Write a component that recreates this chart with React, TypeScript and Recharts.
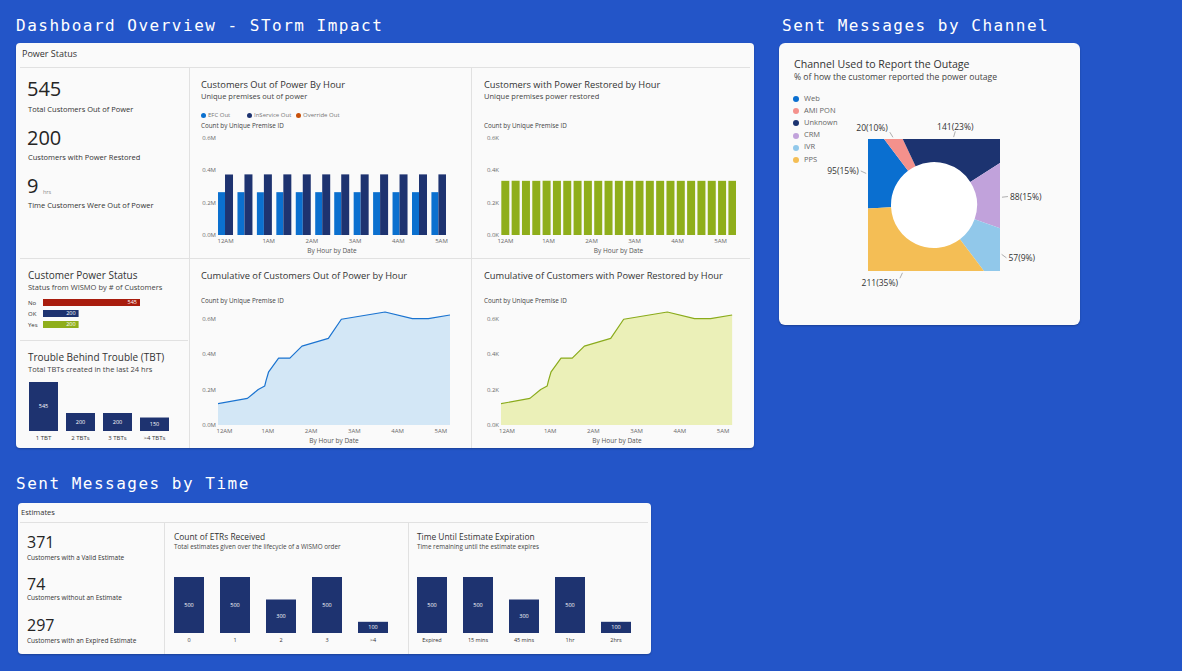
import React from 'react';
import {
  BarChart,
  Bar,
  XAxis,
  YAxis,
  AreaChart,
  Area,
  PieChart,
  Pie,
  Cell,
  LabelList,
} from 'recharts';

// ---------- data ----------
const hourTicks = [0, 1, 2, 3, 4, 5];
const hourTickLabels = ['12AM', '1AM', '2AM', '3AM', '4AM', '5AM'];

// Customers out of power by hour (millions of premises)
const outHours = [0, 0.45, 0.9, 1.35, 1.8, 2.25, 2.69, 3.14, 3.59, 4.04, 4.49, 4.94];
const efcOut = [0.265, 0.265, 0.265, 0.265, 0.265, 0.265, 0.265, 0.265, 0.265, 0.265, 0.265, 0.265];
const inServiceOut = [0.375, 0.375, 0.375, 0.375, 0.375, 0.375, 0.375, 0.375, 0.375, 0.375, 0.375, 0.375];
const outSeriesNames = ['EFC Out', 'InService Out', 'Override Out'];

// Customers with power restored by hour (thousands of premises)
const restoredHours = [
  0, 0.24, 0.48, 0.72, 0.96, 1.2, 1.44, 1.68, 1.92, 2.16, 2.4, 2.64, 2.88, 3.12, 3.36, 3.6, 3.84,
  4.08, 4.32, 4.56, 4.8, 5.04, 5.28,
];
const restoredCounts = [
  0.335, 0.335, 0.335, 0.335, 0.335, 0.335, 0.335, 0.335, 0.335, 0.335, 0.335, 0.335, 0.335,
  0.335, 0.335, 0.335, 0.335, 0.335, 0.335, 0.335, 0.335, 0.335, 0.335,
];

// Cumulative curves
const cumulativeHours = [-0.15, 0.53, 0.78, 0.93, 0.96, 1.02, 1.25, 1.51, 1.79, 2.4, 2.7, 3.71, 4.34, 4.71, 5.21];
const cumulativeOut = [0.12, 0.15, 0.2, 0.22, 0.25, 0.3, 0.377, 0.377, 0.445, 0.488, 0.596, 0.637, 0.6, 0.6, 0.62];
const cumulativeRestored = [0.12, 0.15, 0.2, 0.22, 0.25, 0.3, 0.377, 0.377, 0.445, 0.488, 0.596, 0.637, 0.6, 0.6, 0.62];

// Customer power status (WISMO)
const statusNames = ['No', 'OK', 'Yes'];
const statusCounts = [545, 200, 200];

// Trouble behind trouble
const tbtNames = ['1 TBT', '2 TBTs', '3 TBTs', '>4 TBTs'];
const tbtCounts = [545, 200, 200, 150];

// Channel used to report the outage
const channelNames = ['Web', 'AMI PON', 'Unknown', 'CRM', 'IVR', 'PPS'];
const channelCounts = [95, 20, 141, 88, 57, 211];
const channelPct = [15, 10, 23, 15, 9, 35];

// Estimates
const etrNames = ['0', '1', '2', '3', '>4'];
const etrCounts = [500, 500, 300, 500, 100];
const expiryNames = ['Expired', '15 mins', '45 mins', '1hr', '2hrs'];
const expiryCounts = [500, 500, 300, 500, 100];

// ---------- styling ----------
const FONT = '"Open Sans", "Noto Sans", sans-serif';
const MONO = '"DejaVu Sans Mono", monospace';
const PAGE_BG = '#2355c8';
const CARD_BG = '#fafafa';
const LINE = '#e1e1e1';
const BLUE = '#0b70cf';
const NAVY = '#1e3370';
const ORANGE = '#c8500a';
const GREEN = '#8fae1b';
const RED = '#a81c0d';
const channelColors = ['#0a6fd0', '#f4918c', '#1c3370', '#c1a2db', '#91c8ea', '#f4be55'];
const statusColors = [RED, NAVY, GREEN];

const tickStyle = { fontSize: 6, fill: '#6a6a6a', fontFamily: FONT };

// ---------- table rows for the charts ----------
const outData = outHours.map((t, i) => ({ t, efc: efcOut[i], inService: inServiceOut[i] }));
const restoredData = restoredHours.map((t, i) => ({ t, restored: restoredCounts[i] }));
const cumOutData = cumulativeHours.map((t, i) => ({ t, v: cumulativeOut[i] }));
const cumRestoredData = cumulativeHours.map((t, i) => ({ t, v: cumulativeRestored[i] }));
const statusData = statusNames.map((name, i) => ({ name, value: statusCounts[i] }));
const tbtData = tbtNames.map((name, i) => ({ name, value: tbtCounts[i] }));
const channelData = channelNames.map((name, i) => ({ name, value: channelCounts[i] }));
const etrData = etrNames.map((name, i) => ({ name, value: etrCounts[i] }));
const expiryData = expiryNames.map((name, i) => ({ name, value: expiryCounts[i] }));

const fmtHour = (v: number) => hourTickLabels[hourTicks.indexOf(v)] ?? '';

// ---------- helpers ----------
function Txt({
  x,
  y,
  size,
  color = '#333',
  weight = 400,
  font = FONT,
  spacing = 0,
  children,
}: {
  x: number;
  y: number;
  size: number;
  color?: string;
  weight?: number;
  font?: string;
  spacing?: number;
  children: React.ReactNode;
}) {
  return (
    <div
      style={{
        position: 'absolute',
        left: x,
        top: y - size * 0.58,
        fontSize: size,
        lineHeight: 1,
        color,
        fontWeight: weight,
        fontFamily: font,
        letterSpacing: spacing,
        whiteSpace: 'nowrap',
      }}
    >
      {children}
    </div>
  );
}

function Box({ x, y, w, h, style }: { x: number; y: number; w: number; h: number; style?: React.CSSProperties }) {
  return <div style={{ position: 'absolute', left: x, top: y, width: w, height: h, ...style }} />;
}

function Place({ x, y, children }: { x: number; y: number; children: React.ReactNode }) {
  return <div style={{ position: 'absolute', left: x, top: y }}>{children}</div>;
}

function HourBars() {
  return (
    <BarChart width={251} height={125} data={outData} margin={{ top: 8, right: 4, bottom: 0, left: 0 }} barGap={0}>
      <XAxis
        type="number"
        dataKey="t"
        domain={[-0.174, 5.104]}
        ticks={hourTicks}
        tickFormatter={fmtHour}
        allowDataOverflow
        axisLine={false}
        tickLine={false}
        tickSize={2}
        tickMargin={2}
        height={20}
        interval={0}
        tick={tickStyle}
        label={{ value: 'By Hour by Date', position: 'insideBottom', offset: 2, fontSize: 6.5, fill: '#555', fontFamily: FONT }}
      />
      <YAxis
        type="number"
        domain={[0, 0.6]}
        ticks={[0, 0.2, 0.4, 0.6]}
        tickFormatter={(v: number) => v.toFixed(1) + 'M'}
        width={19}
        axisLine={false}
        tickLine={false}
        tickSize={2}
        tickMargin={0}
        interval={0}
        tick={tickStyle}
      />
      <Bar dataKey="efc" name={outSeriesNames[0]} fill={BLUE} barSize={7} isAnimationActive={false} />
      <Bar dataKey="inService" name={outSeriesNames[1]} fill={NAVY} barSize={8} isAnimationActive={false} />
    </BarChart>
  );
}

function RestoredBars() {
  return (
    <BarChart width={259} height={125} data={restoredData} margin={{ top: 8, right: 4, bottom: 0, left: 0 }}>
      <XAxis
        type="number"
        dataKey="t"
        domain={[-0.104, 5.36]}
        ticks={hourTicks}
        tickFormatter={fmtHour}
        allowDataOverflow
        axisLine={false}
        tickLine={false}
        tickSize={2}
        tickMargin={2}
        height={20}
        interval={0}
        tick={tickStyle}
        label={{ value: 'By Hour by Date', position: 'insideBottom', offset: 2, fontSize: 6.5, fill: '#555', fontFamily: FONT }}
      />
      <YAxis
        type="number"
        domain={[0, 0.6]}
        ticks={[0, 0.2, 0.4, 0.6]}
        tickFormatter={(v: number) => v.toFixed(1) + 'K'}
        width={20}
        axisLine={false}
        tickLine={false}
        tickSize={2}
        tickMargin={0}
        interval={0}
        tick={tickStyle}
      />
      <Bar dataKey="restored" fill={GREEN} barSize={8} isAnimationActive={false} />
    </BarChart>
  );
}

function CumulativeArea({
  data,
  width,
  yAxisWidth,
  domain,
  unit,
  stroke,
  fill,
}: {
  data: { t: number; v: number }[];
  width: number;
  yAxisWidth: number;
  domain: [number, number];
  unit: string;
  stroke: string;
  fill: string;
}) {
  return (
    <AreaChart width={width} height={141} data={data} margin={{ top: 8, right: 4, bottom: 0, left: 0 }}>
      <XAxis
        type="number"
        dataKey="t"
        domain={domain}
        ticks={hourTicks}
        tickFormatter={fmtHour}
        allowDataOverflow
        axisLine={false}
        tickLine={false}
        tickSize={2}
        tickMargin={2}
        height={20}
        interval={0}
        tick={tickStyle}
        label={{ value: 'By Hour by Date', position: 'insideBottom', offset: 2, fontSize: 6.5, fill: '#555', fontFamily: FONT }}
      />
      <YAxis
        type="number"
        domain={[0, 0.6]}
        ticks={[0, 0.2, 0.4, 0.6]}
        tickFormatter={(v: number) => v.toFixed(1) + unit}
        width={yAxisWidth}
        axisLine={false}
        tickLine={false}
        tickSize={2}
        tickMargin={0}
        interval={0}
        tick={tickStyle}
      />
      <Area
        type="linear"
        dataKey="v"
        stroke={stroke}
        strokeWidth={1.2}
        strokeLinejoin="round"
        fill={fill}
        fillOpacity={1}
        dot={false}
        activeDot={false}
        isAnimationActive={false}
      />
    </AreaChart>
  );
}

function StatusTick(props: any) {
  const { y, payload } = props;
  return (
    <text x={2} y={y} dy={2} fontSize={6} fill="#333" fontFamily={FONT}>
      {payload.value}
    </text>
  );
}

function StatusBars() {
  return (
    <BarChart layout="vertical" width={120} height={33} data={statusData} margin={{ top: 0, right: 6, bottom: 0, left: 0 }}>
      <XAxis type="number" domain={[0, 545]} hide />
      <YAxis type="category" dataKey="name" width={17} axisLine={false} tickLine={false} interval={0} tick={<StatusTick />} />
      <Bar dataKey="value" barSize={7} isAnimationActive={false}>
        {statusData.map((d, i) => (
          <Cell key={d.name} fill={statusColors[i]} />
        ))}
        <LabelList dataKey="value" position="insideRight" offset={3} fill="#ffffff" fontSize={5.5} fontFamily={FONT} />
      </Bar>
    </BarChart>
  );
}

function ColumnBars({
  data,
  width,
  height,
  max,
  barSize,
  fontSize,
}: {
  data: { name: string; value: number }[];
  width: number;
  height: number;
  max: number;
  barSize: number;
  fontSize: number;
}) {
  return (
    <BarChart width={width} height={height} data={data} margin={{ top: 0, right: 0, bottom: 0, left: 0 }}>
      <XAxis
        dataKey="name"
        axisLine={false}
        tickLine={false}
        tickSize={3}
        tickMargin={2}
        height={14}
        interval={0}
        tick={{ fontSize, fill: '#333', fontFamily: FONT }}
      />
      <YAxis type="number" domain={[0, max]} hide />
      <Bar dataKey="value" fill={NAVY} barSize={barSize} isAnimationActive={false}>
        <LabelList dataKey="value" position="center" fill="#ffffff" fontSize={5.5} fontFamily={FONT} />
      </Bar>
    </BarChart>
  );
}

const PIE_START = 183;

function renderChannelLabel(p: any) {
  const { cx, cy, midAngle, index, value } = p;
  const rad = (-midAngle * Math.PI) / 180;
  const dx = Math.cos(rad);
  const dy = Math.sin(rad);
  const half = 66;
  const t = half / Math.max(Math.abs(dx), Math.abs(dy));
  const ex = cx + dx * t;
  const ey = cy + dy * t;
  const x1 = ex + dx * 2;
  const y1 = ey + dy * 2;
  const x2 = ex + dx * 8;
  const y2 = ey + dy * 8;
  const anchor = dx > 0.35 ? 'start' : dx < -0.35 ? 'end' : 'middle';
  const tx = x2 + (anchor === 'start' ? 2 : anchor === 'end' ? -2 : 0);
  const ty = y2 + (Math.abs(dy) > 0.8 ? dy * 5 : 0);
  return (
    <g key={`lbl-${index}`}>
      <line x1={x1} y1={y1} x2={x2} y2={y2} stroke="#9a9a9a" strokeWidth={0.8} />
      <text x={tx} y={ty} textAnchor={anchor} dominantBaseline="central" fontSize={8.5} fill="#333" fontFamily={FONT}>
        {`${value}(${channelPct[index]}%)`}
      </text>
    </g>
  );
}

function ChannelPieFill() {
  return (
    <PieChart width={132} height={132} margin={{ top: 0, right: 0, bottom: 0, left: 0 }}>
      <Pie
        data={channelData}
        dataKey="value"
        nameKey="name"
        cx={66}
        cy={66}
        innerRadius={43}
        outerRadius={100}
        startAngle={PIE_START}
        endAngle={PIE_START - 360}
        stroke="none"
        isAnimationActive={false}
      >
        {channelData.map((d, i) => (
          <Cell key={d.name} fill={channelColors[i]} />
        ))}
      </Pie>
    </PieChart>
  );
}

function ChannelPieLabels() {
  return (
    <PieChart width={290} height={200} margin={{ top: 0, right: 0, bottom: 0, left: 0 }}>
      <Pie
        data={channelData}
        dataKey="value"
        nameKey="name"
        cx={144}
        cy={100}
        innerRadius={0}
        outerRadius={66}
        startAngle={PIE_START}
        endAngle={PIE_START - 360}
        fill="none"
        stroke="none"
        label={renderChannelLabel}
        labelLine={false}
        isAnimationActive={false}
      >
        {channelData.map((d) => (
          <Cell key={d.name} fill="transparent" stroke="none" />
        ))}
      </Pie>
    </PieChart>
  );
}

const cardStyle: React.CSSProperties = {
  background: CARD_BG,
  borderRadius: 4,
  boxShadow: '0 1px 2px rgba(0,0,0,0.25)',
};

export default function App() {
  const outLegend = [
    { name: outSeriesNames[0], color: BLUE, x: 203 },
    { name: outSeriesNames[1], color: NAVY, x: 249 },
    { name: outSeriesNames[2], color: ORANGE, x: 298 },
  ];
  return (
    <div
      style={{
        position: 'absolute',
        left: 0,
        top: 0,
        width: 1182,
        height: 671,
        background: PAGE_BG,
        overflow: 'hidden',
        fontFamily: FONT,
      }}
    >
      {/* Section headings */}
      <Txt x={16} y={27} size={16} color="#ffffff" font={MONO} spacing={1.5}>
        Dashboard Overview - STorm Impact
      </Txt>
      <Txt x={782} y={27} size={16} color="#ffffff" font={MONO} spacing={1.5}>
        Sent Messages by Channel
      </Txt>
      <Txt x={16} y={485} size={16} color="#ffffff" font={MONO} spacing={1.5}>
        Sent Messages by Time
      </Txt>

      {/* ---------- Power Status card ---------- */}
      <Box x={16} y={43} w={738} h={405} style={cardStyle} />
      <Txt x={22} y={54} size={9} color="#333">
        Power Status
      </Txt>
      <Box x={20} y={67} w={730} h={1} style={{ background: LINE }} />
      <Box x={188.5} y={68} w={1} h={380} style={{ background: LINE }} />
      <Box x={470.5} y={68} w={1} h={380} style={{ background: LINE }} />
      <Box x={20} y={258} w={730} h={1} style={{ background: LINE }} />
      <Box x={20} y={340} w={168} h={1} style={{ background: LINE }} />

      {/* KPIs */}
      <Txt x={27} y={91} size={20} color="#252525">
        545
      </Txt>
      <Txt x={28} y={110} size={7.5} color="#333">
        Total Customers Out of Power
      </Txt>
      <Txt x={27} y={140} size={20} color="#252525">
        200
      </Txt>
      <Txt x={28} y={158} size={7.5} color="#333">
        Customers with Power Restored
      </Txt>
      <Txt x={27} y={188} size={20} color="#252525">
        9
      </Txt>
      <Txt x={43} y={193} size={5.5} color="#8a8a8a">
        hrs
      </Txt>
      <Txt x={28} y={206} size={7.5} color="#333">
        Time Customers Were Out of Power
      </Txt>

      {/* Customer power status */}
      <Txt x={28} y={276} size={10} color="#333">
        Customer Power Status
      </Txt>
      <Txt x={28} y={288} size={7.5} color="#444">
        Status from WISMO by # of Customers
      </Txt>
      <Place x={26} y={296.5}>
        <StatusBars />
      </Place>

      {/* Trouble behind trouble */}
      <Txt x={28} y={358} size={10} color="#333">
        Trouble Behind Trouble (TBT)
      </Txt>
      <Txt x={28} y={370} size={7.5} color="#444">
        Total TBTs created in the last 24 hrs
      </Txt>
      <Place x={24.5} y={382}>
        <ColumnBars data={tbtData} width={148} height={63} max={545} barSize={29} fontSize={6} />
      </Place>

      {/* Customers out of power by hour */}
      <Txt x={201} y={85} size={9.3} color="#333">
        Customers Out of Power By Hour
      </Txt>
      <Txt x={201} y={97} size={7.5} color="#444">
        Unique premises out of power
      </Txt>
      {outLegend.map((l) => (
        <React.Fragment key={l.name}>
          <div
            style={{
              position: 'absolute',
              left: l.x - 2.5,
              top: 112.5,
              width: 5,
              height: 5,
              borderRadius: '50%',
              background: l.color,
            }}
          />
          <Txt x={l.x + 5} y={115} size={6} color="#777">
            {l.name}
          </Txt>
        </React.Fragment>
      ))}
      <Txt x={201} y={127} size={6.3} color="#444">
        Count by Unique Premise ID
      </Txt>
      <Place x={199} y={130}>
        <HourBars />
      </Place>

      {/* Customers with power restored by hour */}
      <Txt x={484} y={85} size={9.3} color="#333">
        Customers with Power Restored by Hour
      </Txt>
      <Txt x={484} y={97} size={7.5} color="#444">
        Unique premises power restored
      </Txt>
      <Txt x={484} y={127} size={6.3} color="#444">
        Count by Unique Premise ID
      </Txt>
      <Place x={481} y={130}>
        <RestoredBars />
      </Place>

      {/* Cumulative out of power */}
      <Txt x={201} y={276} size={9.3} color="#333">
        Cumulative of Customers Out of Power by Hour
      </Txt>
      <Txt x={201} y={302} size={6.3} color="#444">
        Count by Unique Premise ID
      </Txt>
      <Place x={199} y={304}>
        <CumulativeArea
          data={cumOutData}
          width={255}
          yAxisWidth={19}
          domain={[-0.15, 5.21]}
          unit="M"
          stroke="#1a73d0"
          fill="#d3e7f6"
        />
      </Place>

      {/* Cumulative restored */}
      <Txt x={484} y={276} size={9.3} color="#333">
        Cumulative of Customers with Power Restored by Hour
      </Txt>
      <Txt x={484} y={302} size={6.3} color="#444">
        Count by Unique Premise ID
      </Txt>
      <Place x={481} y={304}>
        <CumulativeArea
          data={cumRestoredData}
          width={256}
          yAxisWidth={20}
          domain={[-0.139, 5.23]}
          unit="K"
          stroke="#8aab1c"
          fill="#ebf0b8"
        />
      </Place>

      {/* ---------- Channel card ---------- */}
      <Box x={779} y={43} w={301} h={282} style={{ ...cardStyle, borderRadius: 6 }} />
      <Txt x={794} y={65} size={10.6} color="#333">
        Channel Used to Report the Outage
      </Txt>
      <Txt x={794} y={78} size={8.6} color="#444">
        % of how the customer reported the power outage
      </Txt>
      {channelNames.map((n, i) => (
        <React.Fragment key={n}>
          <div
            style={{
              position: 'absolute',
              left: 793,
              top: 96 + i * 12.2,
              width: 6,
              height: 6,
              borderRadius: '50%',
              background: channelColors[i],
            }}
          />
          <Txt x={804} y={99 + i * 12.2} size={7.5} color="#666">
            {n}
          </Txt>
        </React.Fragment>
      ))}
      <div
        style={{
          position: 'absolute',
          left: 868,
          top: 139,
          width: 132,
          height: 132,
          overflow: 'hidden',
          background: '#ffffff',
        }}
      >
        <ChannelPieFill />
      </div>
      <Place x={790} y={105}>
        <ChannelPieLabels />
      </Place>

      {/* ---------- Estimates card ---------- */}
      <Box x={18} y={503} w={633} h={151} style={cardStyle} />
      <Txt x={21} y={513} size={7.5} color="#333">
        Estimates
      </Txt>
      <Box x={20} y={522} w={628} h={1} style={{ background: LINE }} />
      <Box x={164} y={523} w={1} h={131} style={{ background: LINE }} />
      <Box x={408} y={523} w={1} h={131} style={{ background: LINE }} />

      <Txt x={27} y={543} size={16} color="#252525">
        371
      </Txt>
      <Txt x={27} y={559} size={6.5} color="#333">
        Customers with a Valid Estimate
      </Txt>
      <Txt x={27} y={585} size={16} color="#252525">
        74
      </Txt>
      <Txt x={27} y={599} size={6.5} color="#333">
        Customers without an Estimate
      </Txt>
      <Txt x={27} y={626} size={16} color="#252525">
        297
      </Txt>
      <Txt x={27} y={642} size={6.5} color="#333">
        Customers with an Expired Estimate
      </Txt>

      <Txt x={174} y={538} size={8.4} color="#333">
        Count of ETRs Received
      </Txt>
      <Txt x={174} y={548} size={6.3} color="#444">
        Total estimates given over the lifecycle of a WISMO order
      </Txt>
      <Place x={166} y={577}>
        <ColumnBars data={etrData} width={230} height={70} max={500} barSize={30} fontSize={5.5} />
      </Place>

      <Txt x={417} y={538} size={8.4} color="#333">
        Time Until Estimate Expiration
      </Txt>
      <Txt x={417} y={548} size={6.3} color="#444">
        Time remaining until the estimate expires
      </Txt>
      <Place x={409} y={577}>
        <ColumnBars data={expiryData} width={230} height={70} max={500} barSize={30} fontSize={5.5} />
      </Place>
    </div>
  );
}
